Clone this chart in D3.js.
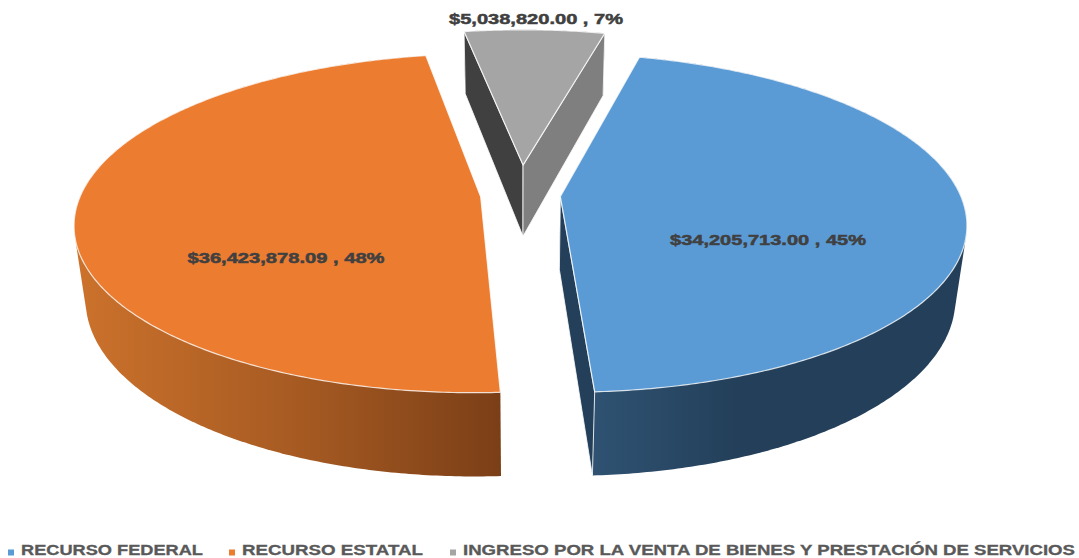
<!DOCTYPE html>
<html><head><meta charset="utf-8">
<script src="https://cdn.jsdelivr.net/npm/d3@7"></script>
<style>html,body{margin:0;padding:0;background:#fff;overflow:hidden}svg{display:block}</style>
</head><body><svg id="c" width="1079" height="558"></svg>
<script>
const categories = ["RECURSO FEDERAL", "RECURSO ESTATAL", "INGRESO POR LA VENTA DE BIENES Y PRESTACIÓN DE SERVICIOS"];
const values = [34205713.00, 36423878.09, 5038820.00];
const explode = [0.1, 0.1, 0.187];
const topColors = ["#5b9bd5", "#ec7c30", "#a5a5a5"];

const svg = d3.select("#c");
const defs = svg.append("defs");
const cx = 520.5;
const planes = {
  top: {y: 195, A: 400, B: 164.8, k: 0.155},
  bot: {y: 268, A: 390, B: 174.8, k: 0.15}
};
function proj(a, r, e, mid, pl) {
  const X = r * Math.sin(a) + e * Math.sin(mid), Z = r * Math.cos(a) + e * Math.cos(mid);
  const w = 1 + pl.k * Z;
  return [cx + pl.A * X / w, pl.y - pl.B * Z / w];
}
const pie = d3.pie().sort(null).startAngle(14 * Math.PI / 180).endAngle(374 * Math.PI / 180);
const arcs = pie(values).map((d, i) => ({...d, i, mid: (d.startAngle + d.endAngle) / 2, e: explode[i]}));
const line = d3.line();
const sideStops = [
  [[595, "#2f5272"], [740, "#233f59"], [967, "#233f59"]],
  [[74, "#cc722c"], [300, "#a65a22"], [500, "#7b3f17"]],
  [[460, "#7f7f7f"], [610, "#7f7f7f"]]
];
sideStops.forEach((stops, i) => {
  const x0 = stops[0][0], x1 = stops[stops.length - 1][0];
  const lg = defs.append("linearGradient").attr("id", "side" + i).attr("gradientUnits", "userSpaceOnUse")
    .attr("x1", x0).attr("x2", x1).attr("y1", 0).attr("y2", 0);
  stops.forEach(s => lg.append("stop").attr("offset", (s[0] - x0) / (x1 - x0)).attr("stop-color", s[1]));
});
const radialColor = [["#233f59", "#233f59"], [null, null], ["#404040", "#7f7f7f"]];
const total = d3.sum(values);
const fmt = d3.format("$,.2f");
const labelPos = [[768, 239, 196], [286, 257, 197], [536, 18, 174]];

[2, 1, 0].forEach(idx => {
  const d = arcs[idx];
  const g = svg.append("g");
  const P = (a, r, pl) => proj(a, r, d.e, d.mid, pl);
  const angs = d3.range(d.startAngle, d.endAngle, 0.01).concat([d.endAngle]);
  // outer wall: hull of both rims, so the silhouette runs tangent between them
  const rims = angs.map(a => P(a, 1, planes.top)).concat(angs.map(a => P(a, 1, planes.bot)));
  g.append("path").attr("d", line(d3.polygonHull(rims)) + "Z").attr("fill", `url(#side${idx})`);
  // radial walls
  [[d.startAngle, 0], [d.endAngle, 1]].forEach(([a, n]) => {
    if (!radialColor[idx][n]) return;
    const pts = [P(a, 0, planes.top), P(a, 1, planes.top), P(a, 1, planes.bot), P(a, 0, planes.bot)];
    g.append("path").attr("d", line(pts) + "Z").attr("fill", radialColor[idx][n])
      .attr("stroke", "#fff").attr("stroke-opacity", 0.8).attr("stroke-width", 1).attr("stroke-linejoin", "round");
  });
  // top face
  const topPts = [P(d.startAngle, 0, planes.top)].concat(angs.map(a => P(a, 1, planes.top)));
  g.append("path").attr("d", line(topPts) + "Z").attr("fill", topColors[idx])
    .attr("stroke", "#fff").attr("stroke-opacity", 0.8).attr("stroke-width", 1.2).attr("stroke-linejoin", "round");
});

arcs.forEach((d, i) => {
  const [x, y, w] = labelPos[i];
  svg.append("text").attr("x", x).attr("y", y).attr("text-anchor", "middle")
    .attr("dominant-baseline", "central")
    .attr("font-family", "'Liberation Sans', Arial, sans-serif").attr("font-weight", 700).attr("font-size", 15)
    .attr("fill", "#404040").attr("stroke", "#404040").attr("stroke-width", 0.5)
    .attr("textLength", w).attr("lengthAdjust", "spacingAndGlyphs")
    .text(`${fmt(d.data)} , ${Math.round(d.data / total * 100)}%`);
});

const legendX = [[8, 21, 182], [229, 242, 181], [450, 463, 612]];
categories.forEach((c, i) => {
  const [sx, tx, w] = legendX[i];
  svg.append("rect").attr("x", sx).attr("y", 549.5).attr("width", 6).attr("height", 6).attr("fill", topColors[i]);
  svg.append("text").attr("x", tx).attr("y", 555)
    .attr("font-family", "'Liberation Sans', Arial, sans-serif").attr("font-weight", 700).attr("font-size", 14)
    .attr("fill", "#595959").attr("stroke", "#595959").attr("stroke-width", 0.3)
    .attr("textLength", w).attr("lengthAdjust", "spacingAndGlyphs").text(c);
});
</script></body></html>
